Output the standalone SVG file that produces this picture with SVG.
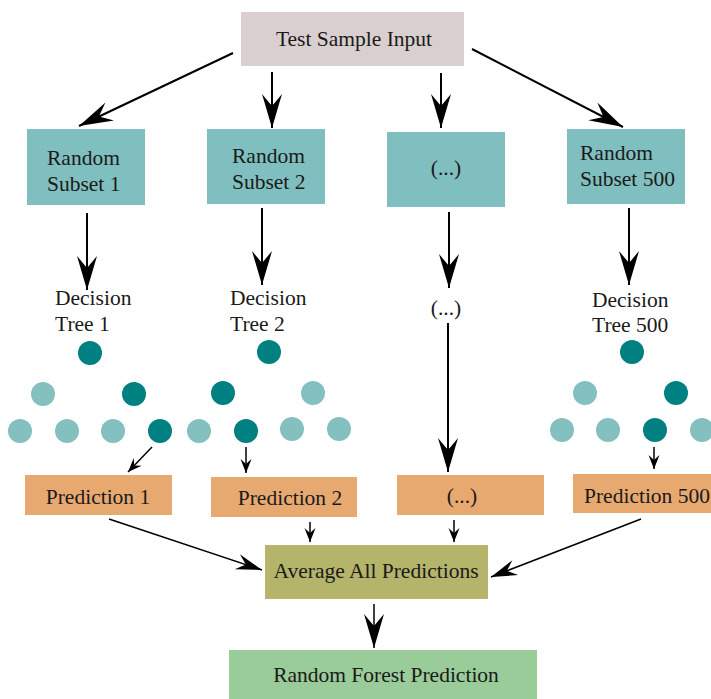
<svg xmlns="http://www.w3.org/2000/svg" width="711" height="699" viewBox="0 0 711 699">
<style>
text{font-family:"Liberation Serif","Times New Roman",serif;font-size:21.5px;fill:#1a1a1a}
.c{text-anchor:middle}
.input{fill:#d9cfcf}
.subset{fill:#80bfbf}
.pred{fill:#e8a971}
.avg{fill:#b4b46a}
.final{fill:#99cc98}
.dk{fill:#008080}
.lt{fill:#84c0c0}
.ln{stroke:#000;fill:none}
.w2{stroke-width:2}
.w15{stroke-width:1.5}
</style>
<defs>
<marker id="big" markerUnits="userSpaceOnUse" markerWidth="40" markerHeight="24" viewBox="-36 -12 40 24" refX="0" refY="0" orient="auto">
<path d="M0,0 L-34,-10 L-22,0 L-34,10 Z" fill="#000"/>
</marker>
<marker id="mid" markerUnits="userSpaceOnUse" markerWidth="30" markerHeight="20" viewBox="-28 -10 30 20" refX="0" refY="0" orient="auto">
<path d="M0,0 L-26,-8 L-17,0 L-26,8 Z" fill="#000"/>
</marker>
<marker id="sm" markerUnits="userSpaceOnUse" markerWidth="16" markerHeight="14" viewBox="-15 -7 16 14" refX="0" refY="0" orient="auto">
<path d="M0,0 L-14,-5.5 L-9,0 L-14,5.5 Z" fill="#000"/>
</marker>
</defs>
<rect width="711" height="699" fill="#fff"/>

<g id="connectors">
<line class="ln w2" x1="233" y1="53" x2="79" y2="126" marker-end="url(#big)"/>
<line class="ln w2" x1="272" y1="72" x2="272" y2="128" marker-end="url(#big)"/>
<line class="ln w2" x1="441" y1="73" x2="441" y2="128" marker-end="url(#big)"/>
<line class="ln w2" x1="472" y1="49" x2="623" y2="127" marker-end="url(#big)"/>
<line class="ln w2" x1="87" y1="213" x2="87" y2="290" marker-end="url(#big)"/>
<line class="ln w2" x1="262" y1="208" x2="262" y2="285" marker-end="url(#big)"/>
<line class="ln w2" x1="449" y1="212" x2="449" y2="288" marker-end="url(#big)"/>
<line class="ln w2" x1="629" y1="208" x2="629" y2="285" marker-end="url(#big)"/>
<line class="ln w2" x1="448" y1="323" x2="448" y2="472" marker-end="url(#big)"/>
<line class="ln w15" x1="152" y1="447" x2="128" y2="472" marker-end="url(#sm)"/>
<line class="ln w15" x1="246" y1="447" x2="246" y2="473" marker-end="url(#sm)"/>
<line class="ln w15" x1="654" y1="447" x2="654" y2="469" marker-end="url(#sm)"/>
<line class="ln w15" x1="109" y1="519" x2="262" y2="570" marker-end="url(#mid)"/>
<line class="ln w15" x1="310" y1="522" x2="310" y2="542" marker-end="url(#sm)"/>
<line class="ln w15" x1="454" y1="520" x2="454" y2="542" marker-end="url(#sm)"/>
<line class="ln w15" x1="641" y1="519" x2="491" y2="577" marker-end="url(#mid)"/>
<line class="ln w15" x1="374" y1="604" x2="374" y2="648" marker-end="url(#big)"/>
</g>

<g id="test-sample-input">
<rect class="input" x="241" y="12" width="223" height="54"/>
<text class="c" x="354" y="46">Test Sample Input</text>
</g>

<g id="random-subset-1">
<rect class="subset" x="27" y="129" width="118" height="76"/>
<text x="47" y="165">Random</text>
<text x="47" y="191">Subset 1</text>
</g>
<g id="random-subset-2">
<rect class="subset" x="207" y="129" width="118" height="75"/>
<text x="232" y="163">Random</text>
<text x="232" y="189">Subset 2</text>
</g>
<g id="random-subset-ellipsis">
<rect class="subset" x="387" y="132" width="118" height="75"/>
<text class="c" x="446" y="175">(...)</text>
</g>
<g id="random-subset-500">
<rect class="subset" x="567" y="129" width="118" height="75"/>
<text x="580" y="160">Random</text>
<text x="580" y="186">Subset 500</text>
</g>

<g id="decision-tree-1">
<text x="55" y="305">Decision</text>
<text x="55" y="331">Tree 1</text>
<circle class="dk" cx="90" cy="353" r="12"/>
<circle class="lt" cx="43" cy="394" r="12"/>
<circle class="dk" cx="134" cy="394" r="12"/>
<circle class="lt" cx="20" cy="431" r="12"/>
<circle class="lt" cx="67" cy="431" r="12"/>
<circle class="lt" cx="113" cy="431" r="12"/>
<circle class="dk" cx="160" cy="431" r="12"/>
</g>
<g id="decision-tree-2">
<text x="230" y="305">Decision</text>
<text x="230" y="331">Tree 2</text>
<circle class="dk" cx="269" cy="352" r="12"/>
<circle class="dk" cx="223" cy="393" r="12"/>
<circle class="lt" cx="313" cy="393" r="12"/>
<circle class="lt" cx="199" cy="431" r="12"/>
<circle class="dk" cx="246" cy="431" r="12"/>
<circle class="lt" cx="292" cy="429" r="12"/>
<circle class="lt" cx="339" cy="429" r="12"/>
</g>
<g id="decision-tree-ellipsis">
<text class="c" x="446" y="315">(...)</text>
</g>
<g id="decision-tree-500">
<text x="592" y="307">Decision</text>
<text x="592" y="332">Tree 500</text>
<circle class="dk" cx="632" cy="352" r="12"/>
<circle class="lt" cx="585" cy="393" r="12"/>
<circle class="dk" cx="676" cy="393" r="12"/>
<circle class="lt" cx="562" cy="430" r="12"/>
<circle class="lt" cx="608" cy="430" r="12"/>
<circle class="dk" cx="655" cy="430" r="12"/>
<circle class="lt" cx="702" cy="430" r="12"/>
</g>

<g id="prediction-1">
<rect class="pred" x="25" y="475" width="147" height="40"/>
<text class="c" x="98" y="504">Prediction 1</text>
</g>
<g id="prediction-2">
<rect class="pred" x="211" y="477" width="146" height="40"/>
<text class="c" x="290" y="505">Prediction 2</text>
</g>
<g id="prediction-ellipsis">
<rect class="pred" x="397" y="475" width="147" height="40"/>
<text class="c" x="462" y="503">(...)</text>
</g>
<g id="prediction-500">
<rect class="pred" x="573" y="474" width="150" height="39"/>
<text x="584" y="503">Prediction 500</text>
</g>

<g id="average-all-predictions">
<rect class="avg" x="265" y="545" width="223" height="54"/>
<text class="c" x="376" y="578">Average All Predictions</text>
</g>

<g id="random-forest-prediction">
<rect class="final" x="229" y="650" width="308" height="55"/>
<text class="c" x="386" y="682">Random Forest Prediction</text>
</g>
</svg>
